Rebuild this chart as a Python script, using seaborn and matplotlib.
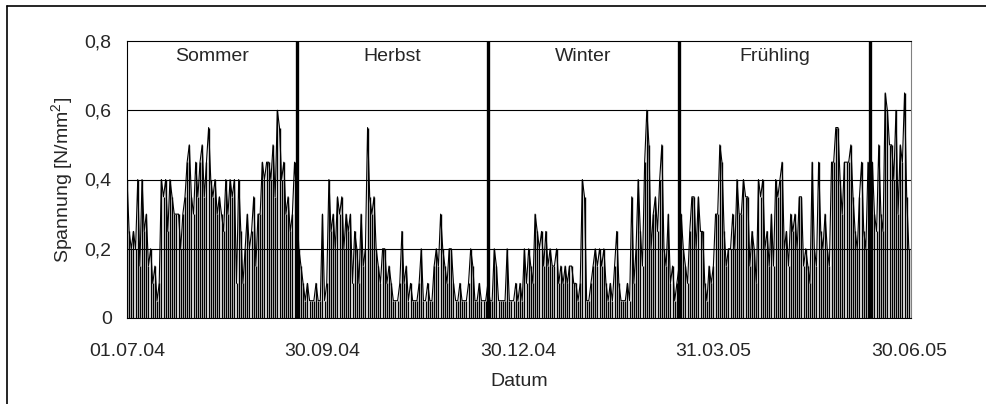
import numpy as np
import pandas as pd
import matplotlib
matplotlib.use('Agg')
import matplotlib.pyplot as plt
import matplotlib.dates as mdates
from matplotlib.lines import Line2D
from matplotlib.ticker import FuncFormatter
import seaborn as sns

# daily peak stress [N/mm2], one list per month
jul = [0.4, 0.25, 0.2, 0.25, 0.2, 0.4, 0.15, 0.4, 0.25, 0.3, 0.15, 0.2, 0.1, 0.15, 0.05, 0.1,
       0.4, 0.35, 0.4, 0.25, 0.4, 0.35, 0.3, 0.3, 0.3, 0.2, 0.3, 0.35, 0.45, 0.5, 0.35]
aug = [0.3, 0.45, 0.35, 0.45, 0.5, 0.35, 0.45, 0.55, 0.4, 0.35, 0.4, 0.3, 0.35, 0.3, 0.25, 0.4,
       0.3, 0.4, 0.35, 0.4, 0.1, 0.4, 0.25, 0.1, 0.2, 0.3, 0.2, 0.25, 0.35, 0.15, 0.3]
sep = [0.3, 0.45, 0.4, 0.45, 0.45, 0.4, 0.5, 0.35, 0.6, 0.55, 0.4, 0.45, 0.3, 0.35, 0.25, 0.3,
       0.45, 0.35, 0.2, 0.15, 0.1, 0.05, 0.1, 0.05, 0.05, 0.05, 0.1, 0.05, 0.05, 0.3]
okt = [0.05, 0.1, 0.4, 0.25, 0.3, 0.2, 0.35, 0.3, 0.35, 0.2, 0.3, 0.25, 0.3, 0.1, 0.25, 0.2,
       0.1, 0.3, 0.15, 0.2, 0.55, 0.35, 0.3, 0.35, 0.2, 0.15, 0.1, 0.2, 0.2, 0.1, 0.15]
nov = [0.1, 0.05, 0.05, 0.05, 0.1, 0.25, 0.1, 0.15, 0.05, 0.1, 0.05, 0.05, 0.05, 0.1, 0.2,
       0.05, 0.05, 0.1, 0.05, 0.05, 0.15, 0.2, 0.15, 0.3, 0.2, 0.15, 0.1, 0.2, 0.2, 0.1]
dez = [0.05, 0.05, 0.1, 0.05, 0.05, 0.05, 0.1, 0.2, 0.15, 0.05, 0.05, 0.1, 0.05, 0.05, 0.05,
       0.1, 0.05, 0.05, 0.2, 0.15, 0.05, 0.05, 0.05, 0.05, 0.2, 0.05, 0.05, 0.05, 0.1, 0.05, 0.1]
jan = [0.05, 0.2, 0.1, 0.2, 0.15, 0.1, 0.3, 0.25, 0.2, 0.25, 0.15, 0.25, 0.15, 0.2, 0.15, 0.15,
       0.2, 0.1, 0.15, 0.1, 0.15, 0.1, 0.15, 0.15, 0.1, 0.1, 0.05, 0.1, 0.4, 0.35, 0.05]
feb = [0.05, 0.1, 0.15, 0.2, 0.15, 0.2, 0.15, 0.2, 0.1, 0.05, 0.1, 0.05, 0.15, 0.25, 0.1,
       0.05, 0.05, 0.05, 0.1, 0.05, 0.35, 0.1, 0.2, 0.4, 0.25, 0.15, 0.45, 0.6]
mrz = [0.5, 0.2, 0.3, 0.35, 0.25, 0.4, 0.5, 0.2, 0.15, 0.3, 0.1, 0.15, 0.05, 0.1, 0.15, 0.3,
       0.2, 0.15, 0.1, 0.25, 0.35, 0.35, 0.2, 0.35, 0.25, 0.25, 0.1, 0.05, 0.15, 0.1, 0.15]
apr = [0.3, 0.3, 0.5, 0.45, 0.25, 0.15, 0.2, 0.2, 0.3, 0.2, 0.4, 0.3, 0.3, 0.4, 0.35, 0.35,
       0.15, 0.25, 0.2, 0.1, 0.4, 0.35, 0.4, 0.2, 0.25, 0.15, 0.3, 0.15, 0.4, 0.35]
mai = [0.4, 0.45, 0.2, 0.25, 0.15, 0.3, 0.25, 0.3, 0.2, 0.35, 0.35, 0.15, 0.2, 0.15, 0.1, 0.45,
       0.2, 0.15, 0.45, 0.25, 0.2, 0.3, 0.2, 0.15, 0.45, 0.45, 0.55, 0.55, 0.4, 0.3, 0.45]
jun = [0.45, 0.45, 0.5, 0.35, 0.25, 0.2, 0.35, 0.45, 0.25, 0.2, 0.45, 0.3, 0.45, 0.3, 0.25,
       0.5, 0.3, 0.25, 0.65, 0.6, 0.5, 0.5, 0.4, 0.6, 0.3, 0.5, 0.45, 0.65, 0.35, 0.2]

seasons = ['Sommer', 'Herbst', 'Winter', 'Frühling']
season_breaks = ['2004-09-18', '2004-12-16', '2005-03-15', '2005-06-12']
tick_dates = ['2004-07-01', '2004-09-30', '2004-12-30', '2005-03-31', '2005-06-30']

values = jul + aug + sep + okt + nov + dez + jan + feb + mrz + apr + mai + jun
df = pd.DataFrame({'Datum': pd.date_range('2004-07-01', periods=len(values), freq='D'),
                   'Spannung': values})

sns.set_style('white')
plt.rcParams['font.family'] = ['Liberation Sans', 'DejaVu Sans']
plt.rcParams['font.size'] = 14

fig = plt.figure(figsize=(9.87, 4.04), dpi=100)
ax = fig.add_axes([127 / 987, 86 / 404, 784 / 987, 277 / 404])

for y in [0.2, 0.4, 0.6]:
    ax.axhline(y, color='black', lw=0.8, zorder=1)

ax.vlines(df['Datum'], 0, df['Spannung'], color='black', lw=1.0, zorder=2)
sns.lineplot(data=df, x='Datum', y='Spannung', color='black', lw=0.8, ax=ax, zorder=3)

breaks = pd.to_datetime(season_breaks)
for b in breaks:
    ax.axvline(b, color='black', lw=2.4, zorder=4)

edges = [pd.Timestamp('2004-07-01')] + list(breaks)
for name, left, right in zip(seasons, edges[:-1], edges[1:]):
    ax.text(left + (right - left) / 2, 0.755, name, ha='center', va='center', fontsize=14)

ax.set_xlim(pd.Timestamp('2004-07-01'), pd.Timestamp('2005-07-01'))
ax.set_ylim(0, 0.8)
ax.set_yticks([0, 0.2, 0.4, 0.6, 0.8])
ax.yaxis.set_major_formatter(FuncFormatter(lambda v, p: '0' if v == 0 else f'{v:.1f}'.replace('.', ',')))
ax.set_xticks(pd.to_datetime(tick_dates))
ax.xaxis.set_major_formatter(mdates.DateFormatter('%d.%m.%y'))
ax.tick_params(axis='both', direction='out', length=6, width=0.8, color='black', labelsize=14)
ax.tick_params(axis='x', pad=12)
ax.tick_params(axis='y', pad=5)
for s in ax.spines.values():
    s.set_color('black')
    s.set_linewidth(0.8)
ax.spines['right'].set_color('#808080')

ax.set_xlabel('Datum', fontsize=14, labelpad=9)
ax.set_ylabel('Spannung [N/mm$^{\\mathregular{2}}$]', fontsize=14, labelpad=6)

# outer chart frame (left and top edges only visible)
fig.add_artist(Line2D([7 / 987, 7 / 987], [0, 1 - 6 / 404], transform=fig.transFigure, color='black', lw=1.2))
fig.add_artist(Line2D([7 / 987, 1], [1 - 6 / 404, 1 - 6 / 404], transform=fig.transFigure, color='black', lw=1.2))

fig.savefig('out.png', dpi=100)
